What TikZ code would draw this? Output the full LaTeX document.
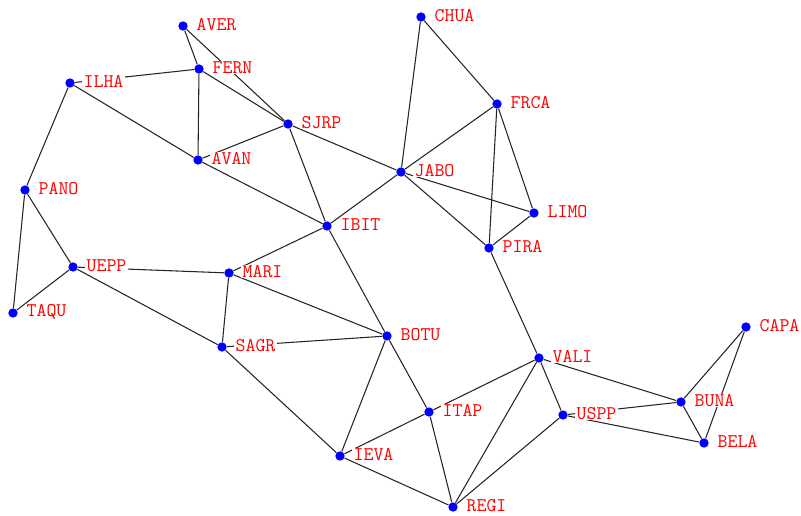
\documentclass[tikz,border=0pt]{standalone}
\usepackage{fontspec}
\begin{document}
\begin{tikzpicture}[x=0.75pt,y=-0.75pt,
  dot/.style={circle, fill=blue, inner sep=0pt, minimum size=7pt},
  lab/.style={anchor=west, fill=white, text=red, inner xsep=1.5pt, inner ysep=0.5pt,
    font=\ttfamily\fontsize{14.5}{15}\selectfont},
  edge/.style={draw=black!85, line width=0.8pt}]
\useasboundingbox (0,0) rectangle (801,516);
\foreach \n/\x/\y in {AVER/183/26, CHUA/421/17, FERN/199/69, ILHA/70/83, FRCA/497/104,
  SJRP/288/124, AVAN/198/160, JABO/401/172, PANO/25/190, LIMO/534/213, IBIT/327/226,
  PIRA/489/248, UEPP/73/267, MARI/229/273, TAQU/13/313, BOTU/387/336, SAGR/222/347,
  CAPA/746/327, VALI/539/358, BUNA/681/402, ITAP/429/412, USPP/563/415, BELA/704/443,
  IEVA/340/456, REGI/453/507}
  \node[dot] (\n) at (\x,\y) {};
\foreach \a/\b in {AVER/FERN, AVER/SJRP, ILHA/FERN, FERN/AVAN, FERN/SJRP, ILHA/PANO,
  ILHA/AVAN, AVAN/IBIT, AVAN/SJRP, SJRP/IBIT, SJRP/JABO, CHUA/JABO, CHUA/FRCA,
  FRCA/JABO, FRCA/LIMO, FRCA/PIRA, JABO/LIMO, JABO/PIRA, LIMO/PIRA, JABO/IBIT,
  IBIT/MARI, IBIT/BOTU, PANO/TAQU, PANO/UEPP, UEPP/TAQU, UEPP/MARI, UEPP/SAGR,
  MARI/SAGR, MARI/BOTU, SAGR/BOTU, SAGR/IEVA, BOTU/IEVA, BOTU/ITAP, ITAP/IEVA,
  ITAP/VALI, ITAP/REGI, IEVA/REGI, REGI/VALI, REGI/USPP, PIRA/VALI, VALI/USPP,
  VALI/BUNA, USPP/BUNA, USPP/BELA, BUNA/CAPA, BUNA/BELA, BELA/CAPA}
  \draw[edge] (\a) -- (\b);
\foreach \n in {AVER, CHUA, FERN, ILHA, FRCA, SJRP, AVAN, JABO, PANO, LIMO, IBIT,
  PIRA, UEPP, MARI, TAQU, BOTU, SAGR, CAPA, VALI, BUNA, ITAP, USPP, BELA, IEVA, REGI}
  \node[lab] (\n-l) at ([xshift=8.5pt,yshift=1pt]\n.center) {\n};
\end{tikzpicture}
\end{document}
